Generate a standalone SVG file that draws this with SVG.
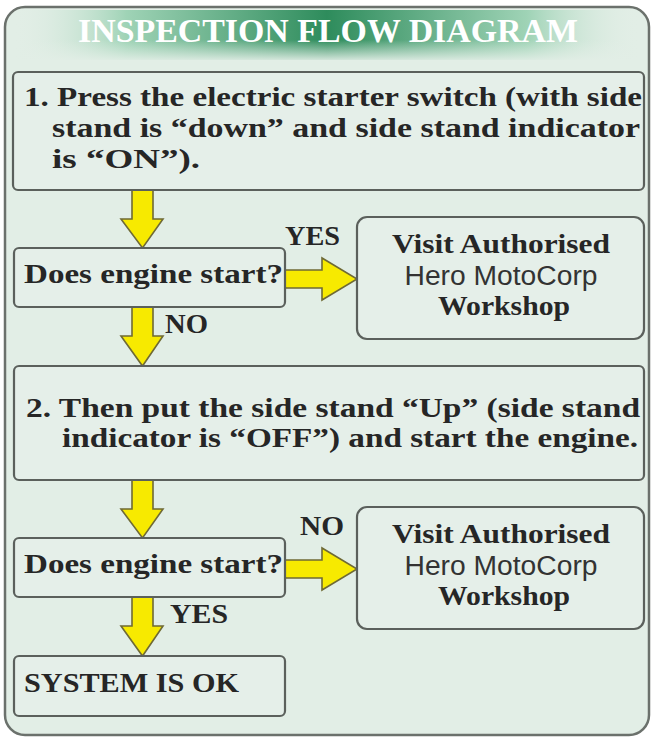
<svg xmlns="http://www.w3.org/2000/svg" width="653" height="740" viewBox="0 0 653 740">
<defs>
<linearGradient id="bannerH" x1="0" y1="0" x2="1" y2="0">
<stop offset="0" stop-color="#e2eee6" stop-opacity="0"/>
<stop offset="0.18" stop-color="#9fd3b6"/>
<stop offset="0.5" stop-color="#2e8c5c"/>
<stop offset="0.82" stop-color="#9fd3b6"/>
<stop offset="1" stop-color="#e2eee6" stop-opacity="0"/>
</linearGradient>
<linearGradient id="bannerV" x1="0" y1="0" x2="0" y2="1">
<stop offset="0" stop-color="#e2eee6" stop-opacity="0"/>
<stop offset="1" stop-color="#e2eee6" stop-opacity="1"/>
</linearGradient>
<style>
.frame{fill:#e2eee6;stroke:#6b716c;stroke-width:2.5}
.box{fill:#e5efe9;stroke:#5b605c;stroke-width:2.2}
.arrow{fill:#f7ea00;stroke:#6f6a35;stroke-width:1.6;stroke-linejoin:miter}
.t{font-family:"Liberation Serif","DejaVu Serif",serif;font-weight:bold;fill:#262626;font-size:27px}
.s{font-family:"Liberation Sans","DejaVu Sans",sans-serif;font-weight:normal;fill:#333;font-size:27px}
.title{font-family:"Liberation Serif","DejaVu Serif",serif;font-weight:bold;fill:#ffffff;font-size:34px}
</style>
</defs>
<rect class="frame" x="5" y="7" width="644" height="728" rx="20" ry="20"/>
<g id="title">
<rect x="14" y="10" width="626" height="50" fill="url(#bannerH)"/>
<rect x="14" y="40" width="626" height="22" fill="url(#bannerV)"/>
<text class="title" x="78" y="42" textLength="500" lengthAdjust="spacingAndGlyphs">INSPECTION FLOW DIAGRAM</text>
</g>
<g id="connectors">
<path class="arrow" d="M132,190 L153,190 L153,219 L163,219 L142.5,248 L121,219 L132,219 Z"/>
<path class="arrow" d="M132,307 L153,307 L153,336 L163,336 L142.5,366 L121,336 L132,336 Z"/>
<path class="arrow" d="M285,270 L322,270 L322,258 L357,279 L322,300 L322,288 L285,288 Z"/>
<path class="arrow" d="M132,480 L153,480 L153,509 L163,509 L142.5,538 L121,509 L132,509 Z"/>
<path class="arrow" d="M132,597 L153,597 L153,626 L163,626 L142.5,656 L121,626 L132,626 Z"/>
<path class="arrow" d="M285,560 L322,560 L322,548 L357,569 L322,590 L322,578 L285,578 Z"/>
<text class="t" x="285" y="245" textLength="55" lengthAdjust="spacingAndGlyphs">YES</text>
<text class="t" x="165" y="333" textLength="43" lengthAdjust="spacingAndGlyphs">NO</text>
<text class="t" x="300" y="535" textLength="44" lengthAdjust="spacingAndGlyphs">NO</text>
<text class="t" x="170" y="623" textLength="58" lengthAdjust="spacingAndGlyphs">YES</text>
</g>
<g id="step1">
<rect class="box" x="13" y="72" width="631" height="118" rx="5"/>
<text class="t" x="24" y="106" textLength="618" lengthAdjust="spacingAndGlyphs">1. Press the electric starter switch (with side</text>
<text class="t" x="52" y="137" textLength="588" lengthAdjust="spacingAndGlyphs">stand is “down” and side stand indicator</text>
<text class="t" x="52" y="168" textLength="148" lengthAdjust="spacingAndGlyphs">is “ON”).</text>
</g>
<g id="decision1">
<rect class="box" x="14" y="248" width="271" height="59" rx="5"/>
<text class="t" x="24" y="283" textLength="259" lengthAdjust="spacingAndGlyphs">Does engine start?</text>
</g>
<g id="workshop1">
<rect class="box" x="357" y="217" width="287" height="122" rx="10"/>
<text class="t" x="501" y="253" text-anchor="middle" textLength="218" lengthAdjust="spacingAndGlyphs">Visit Authorised</text>
<text class="s" x="501" y="285" text-anchor="middle" textLength="193" lengthAdjust="spacingAndGlyphs">Hero MotoCorp</text>
<text class="t" x="504" y="315" text-anchor="middle" textLength="132" lengthAdjust="spacingAndGlyphs">Workshop</text>
</g>
<g id="step2">
<rect class="box" x="14" y="366" width="630" height="114" rx="5"/>
<text class="t" x="26" y="417" textLength="614" lengthAdjust="spacingAndGlyphs">2. Then put the side stand “Up” (side stand</text>
<text class="t" x="62" y="447" textLength="576" lengthAdjust="spacingAndGlyphs">indicator is “OFF”) and start the engine.</text>
</g>
<g id="decision2">
<rect class="box" x="14" y="538" width="271" height="59" rx="5"/>
<text class="t" x="24" y="573" textLength="259" lengthAdjust="spacingAndGlyphs">Does engine start?</text>
</g>
<g id="workshop2">
<rect class="box" x="357" y="507" width="287" height="122" rx="10"/>
<text class="t" x="501" y="543" text-anchor="middle" textLength="218" lengthAdjust="spacingAndGlyphs">Visit Authorised</text>
<text class="s" x="501" y="575" text-anchor="middle" textLength="193" lengthAdjust="spacingAndGlyphs">Hero MotoCorp</text>
<text class="t" x="504" y="605" text-anchor="middle" textLength="132" lengthAdjust="spacingAndGlyphs">Workshop</text>
</g>
<g id="result">
<rect class="box" x="14" y="656" width="271" height="60" rx="5"/>
<text class="t" x="24" y="692" textLength="215" lengthAdjust="spacingAndGlyphs">SYSTEM IS OK</text>
</g>
</svg>
